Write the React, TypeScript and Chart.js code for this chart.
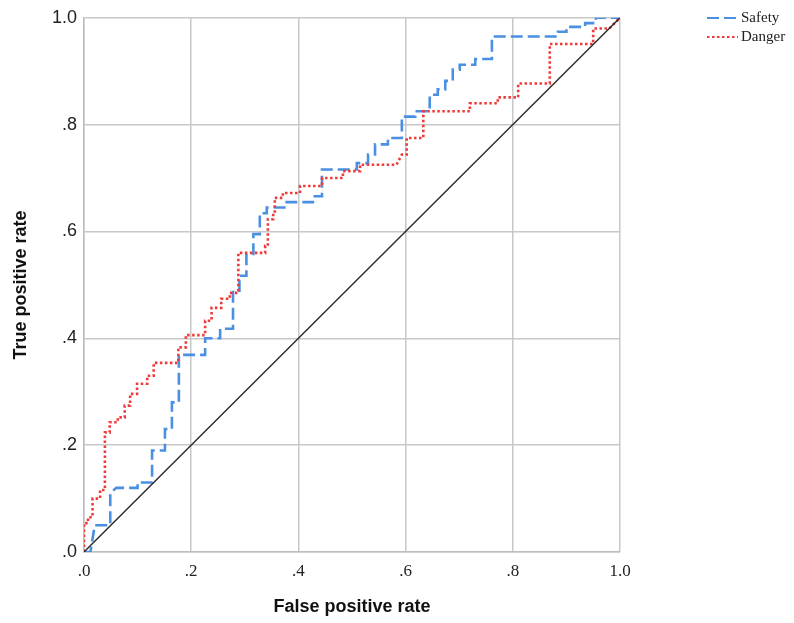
import React, { useEffect, useRef } from 'react';
import { Chart, registerables } from 'chart.js';

Chart.register(...registerables);

const seriesNames = ['Safety', 'Danger'];

const safetyFpr = [0, 0.012, 0.02, 0.049, 0.049, 0.06, 0.1, 0.1, 0.127, 0.127, 0.151, 0.151, 0.164, 0.164, 0.177, 0.177, 0.226, 0.226, 0.254, 0.254, 0.278, 0.278, 0.29, 0.29, 0.303, 0.303, 0.316, 0.316, 0.328, 0.328, 0.341, 0.341, 0.378, 0.378, 0.427, 0.427, 0.444, 0.444, 0.509, 0.509, 0.53, 0.53, 0.543, 0.543, 0.567, 0.567, 0.593, 0.593, 0.618, 0.618, 0.645, 0.645, 0.66, 0.66, 0.674, 0.674, 0.688, 0.688, 0.701, 0.701, 0.73, 0.73, 0.761, 0.761, 0.884, 0.884, 0.9, 0.9, 0.935, 0.935, 0.955, 0.955, 1];
const safetyTpr = [0, 0, 0.05, 0.05, 0.11, 0.12, 0.12, 0.13, 0.13, 0.19, 0.19, 0.23, 0.23, 0.28, 0.28, 0.369, 0.369, 0.4, 0.4, 0.418, 0.418, 0.489, 0.489, 0.517, 0.517, 0.558, 0.558, 0.595, 0.595, 0.634, 0.634, 0.645, 0.645, 0.655, 0.655, 0.666, 0.666, 0.716, 0.716, 0.728, 0.728, 0.744, 0.744, 0.763, 0.763, 0.775, 0.775, 0.815, 0.815, 0.825, 0.825, 0.856, 0.856, 0.866, 0.866, 0.882, 0.882, 0.903, 0.903, 0.912, 0.912, 0.923, 0.923, 0.965, 0.965, 0.974, 0.974, 0.983, 0.983, 0.99, 0.99, 1, 1];

const dangerFpr = [0, 0, 0.0075, 0.0075, 0.016, 0.016, 0.03, 0.03, 0.039, 0.039, 0.048, 0.048, 0.063, 0.063, 0.076, 0.076, 0.086, 0.086, 0.099, 0.099, 0.118, 0.118, 0.13, 0.13, 0.176, 0.176, 0.19, 0.19, 0.226, 0.226, 0.238, 0.238, 0.256, 0.256, 0.272, 0.272, 0.288, 0.288, 0.338, 0.338, 0.343, 0.343, 0.353, 0.353, 0.356, 0.356, 0.371, 0.371, 0.403, 0.403, 0.444, 0.444, 0.483, 0.483, 0.515, 0.515, 0.583, 0.593, 0.602, 0.602, 0.633, 0.633, 0.72, 0.72, 0.772, 0.772, 0.81, 0.81, 0.869, 0.869, 0.95, 0.95, 0.98, 1];
const dangerTpr = [0, 0.054, 0.054, 0.065, 0.065, 0.1, 0.1, 0.116, 0.116, 0.224, 0.224, 0.243, 0.243, 0.252, 0.252, 0.274, 0.274, 0.296, 0.296, 0.315, 0.315, 0.33, 0.33, 0.354, 0.354, 0.383, 0.383, 0.406, 0.406, 0.433, 0.433, 0.457, 0.457, 0.474, 0.474, 0.485, 0.485, 0.56, 0.56, 0.573, 0.573, 0.623, 0.623, 0.634, 0.634, 0.663, 0.663, 0.672, 0.672, 0.685, 0.685, 0.7, 0.7, 0.713, 0.713, 0.725, 0.725, 0.744, 0.744, 0.775, 0.775, 0.825, 0.825, 0.84, 0.84, 0.851, 0.851, 0.877, 0.877, 0.951, 0.951, 0.98, 0.98, 1];

const refFpr = [0, 1];
const refTpr = [0, 1];

const tickLabels = ['.0', '.2', '.4', '.6', '.8', '1.0'];

const safetyColor = '#4a8fe2';
const dangerColor = '#f03a3a';

const toPts = (xs: number[], ys: number[]) => xs.map((x, i) => ({ x, y: ys[i] }));

const legendItems = [
  { label: seriesNames[0], color: safetyColor, dash: [12, 5] },
  { label: seriesNames[1], color: dangerColor, dash: [2.5, 2.5] },
];

const legendPlugin = {
  id: 'rocLegend',
  afterDraw(chart: any) {
    const ctx = chart.ctx;
    const x0 = chart.chartArea.right + 87;
    ctx.save();
    legendItems.forEach((it, i) => {
      const y = 18 + i * 19;
      ctx.strokeStyle = it.color;
      ctx.lineWidth = 2;
      ctx.setLineDash(it.dash);
      ctx.beginPath();
      ctx.moveTo(x0, y);
      ctx.lineTo(x0 + 31, y);
      ctx.stroke();
      ctx.setLineDash([]);
      ctx.fillStyle = '#222';
      ctx.font = '15px "Liberation Serif"';
      ctx.textBaseline = 'middle';
      ctx.textAlign = 'left';
      ctx.fillText(it.label, x0 + 34, y);
    });
    ctx.restore();
  },
};

export default function App() {
  const ref = useRef<HTMLCanvasElement>(null);
  useEffect(() => {
    if (!ref.current) return;
    const chart = new Chart(ref.current, {
      type: 'scatter',
      data: {
        datasets: [
          {
            label: 'Reference',
            data: toPts(refFpr, refTpr),
            showLine: true,
            borderColor: '#2a2a2a',
            borderWidth: 1.4,
            pointRadius: 0,
          },
          {
            label: seriesNames[1],
            data: toPts(dangerFpr, dangerTpr),
            showLine: true,
            borderColor: dangerColor,
            borderWidth: 2.6,
            borderDash: [2.5, 2.5],
            pointRadius: 0,
          },
          {
            label: seriesNames[0],
            data: toPts(safetyFpr, safetyTpr),
            showLine: true,
            borderColor: safetyColor,
            borderWidth: 2.6,
            borderDash: [12, 5],
            pointRadius: 0,
          },
        ],
      },
      options: {
        responsive: false,
        animation: false,
        layout: { padding: { top: 15, right: 174, left: 0, bottom: 0 } },
        plugins: { legend: { display: false }, tooltip: { enabled: false } },
        scales: {
          x: {
            type: 'linear',
            min: 0,
            max: 1,
            afterFit: (s: any) => { s.height = 71; },
            grid: { color: '#c8c8c8', lineWidth: 1.5, drawTicks: false },
            border: { color: '#bdbdbd', width: 1.5 },
            ticks: {
              stepSize: 0.2,
              padding: 9,
              color: '#222',
              font: { family: '"Liberation Serif"', size: 17 },
              callback: (_v: any, i: number) => tickLabels[i],
              maxRotation: 0,
            },
            title: {
              display: true,
              text: 'False positive rate',
              color: '#111',
              font: { family: '"Liberation Sans"', size: 18, weight: 'bold' },
              padding: { top: 0, bottom: 5 },
            },
          },
          y: {
            type: 'linear',
            min: 0,
            max: 1,
            afterFit: (s: any) => { s.width = 84; },
            grid: { color: '#c8c8c8', lineWidth: 1.5, drawTicks: false },
            border: { color: '#bdbdbd', width: 1.5 },
            ticks: {
              stepSize: 0.2,
              padding: 7,
              color: '#222',
              font: { family: '"Liberation Sans"', size: 18 },
              callback: (_v: any, i: number) => tickLabels[i],
            },
            title: {
              display: true,
              text: 'True positive rate',
              color: '#111',
              font: { family: '"Liberation Sans"', size: 18, weight: 'bold' },
              padding: { top: 10, bottom: 0 },
            },
          },
        },
      },
      plugins: [legendPlugin],
    });
    return () => chart.destroy();
  }, []);
  return (
    <div style={{ position: 'absolute', left: 0, top: 0, width: 794, height: 623, background: '#fff' }}>
      <canvas ref={ref} width={794} height={623} />
    </div>
  );
}
